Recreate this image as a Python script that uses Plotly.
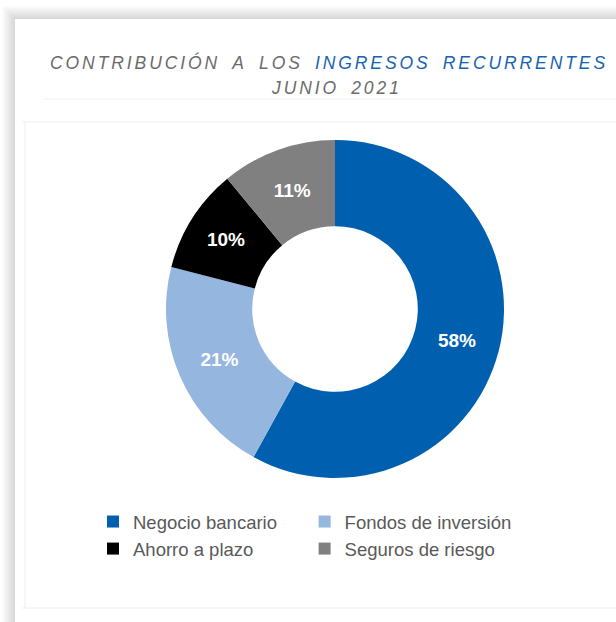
import plotly.graph_objects as go

# ---- data ----
labels = ["Negocio bancario", "Fondos de inversión", "Ahorro a plazo", "Seguros de riesgo"]
values = [58, 21, 10, 11]
colors = ["#005FAF", "#95B6DF", "#000000", "#808080"]
title_gray = "CONTRIBUCIÓN A LOS"
title_blue = "INGRESOS RECURRENTES"
subtitle = "JUNIO 2021"

W, H = 616, 622
ML, MR, MT, MB = 90, 50, 0, 0
GW, GH = W - ML - MR, H - MT - MB


def px(x):
    return (x - ML) / GW


def py(y):
    return (H - MB - y) / GH


LS = "\u2006"             # letter spacing
WS = LS + " \u2005" + LS  # word spacing


def spaced(s):
    return WS.join(LS.join(list(w)) for w in s.split(" "))


cx, cy, r = 335, 309, 169

fig = go.Figure()
fig.add_trace(go.Pie(
    labels=labels,
    values=values,
    hole=0.49,
    sort=False,
    direction="clockwise",
    rotation=0,
    marker=dict(colors=colors, line=dict(width=0)),
    texttemplate="%{value}%",
    textposition="inside",
    insidetextorientation="horizontal",
    textfont=dict(family="Liberation Sans Narrow, Arial Narrow, Liberation Sans, Arial",
                  size=19, color="white", weight="bold"),
    domain=dict(x=[px(cx - r), px(cx + r)], y=[py(cy + r), py(cy - r)]),
    showlegend=True,
))

shapes = []
# shadow around card
for k in range(1, 14):
    shapes.append(dict(type="rect", xref="paper", yref="paper",
                       x0=px(15 - k), x1=px(W + 20), y0=py(H + 20), y1=py(19 - k),
                       fillcolor="rgba(0,0,0,0.011)", line=dict(width=0), layer="below"))
shapes.append(dict(type="rect", xref="paper", yref="paper",
                   x0=px(15), x1=px(W + 20), y0=py(H + 20), y1=py(19),
                   fillcolor="white", line=dict(width=0), layer="below"))
# faint separators
line_c = "#efefef"
shapes.append(dict(type="line", xref="paper", yref="paper", x0=px(43), x1=px(W), y0=py(99), y1=py(99),
                   line=dict(color="#f1f1f1", width=1), layer="below"))
shapes.append(dict(type="line", xref="paper", yref="paper", x0=px(22), x1=px(W), y0=py(122), y1=py(122),
                   line=dict(color=line_c, width=1), layer="below"))
shapes.append(dict(type="line", xref="paper", yref="paper", x0=px(25), x1=px(25), y0=py(122), y1=py(608),
                   line=dict(color=line_c, width=1), layer="below"))
shapes.append(dict(type="line", xref="paper", yref="paper", x0=px(22), x1=px(W), y0=py(608), y1=py(608),
                   line=dict(color=line_c, width=1), layer="below"))

tfont = dict(family="Liberation Sans, Arial", size=17.5, color="#6b6b6b", style="italic")
annotations = [
    dict(xref="paper", yref="paper", x=px(48), y=py(62), xanchor="left", yanchor="middle",
         showarrow=False, font=tfont,
         text=spaced(title_gray) + WS + '<span style="color:#1763B0">' + spaced(title_blue) + "</span>"),
    dict(xref="paper", yref="paper", x=px(334.5), y=py(88), xanchor="center", yanchor="middle",
         showarrow=False, font=tfont, text=spaced(subtitle)),
]

fig.update_layout(
    width=W, height=H,
    margin=dict(l=ML, r=MR, t=MT, b=MB, pad=0),
    paper_bgcolor="white",
    plot_bgcolor="white",
    shapes=shapes,
    annotations=annotations,
    legend=dict(orientation="h", x=px(93), y=py(503), xanchor="left", yanchor="top",
                font=dict(family="Liberation Sans, Arial", size=18.5, color="#595959"),
                bgcolor="rgba(0,0,0,0)", traceorder="normal"),
)

fig.write_html("out.html", config={"displayModeBar": False},
               post_script="document.body.style.margin='0px';")
